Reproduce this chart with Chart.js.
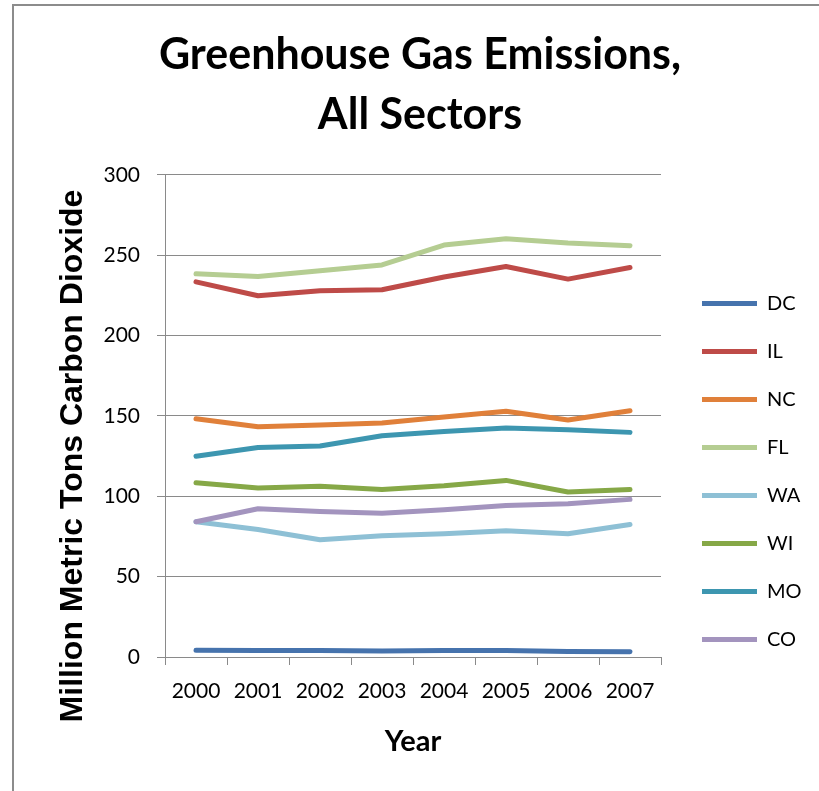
<!DOCTYPE html>
<html>
<head>
<meta charset="utf-8">
<script src="https://cdn.jsdelivr.net/npm/chart.js@4.4.1/dist/chart.umd.min.js"></script>
<style>
  html, body { margin: 0; padding: 0; background: #fff; overflow: hidden; }
  #wrap { position: relative; width: 819px; height: 791px; overflow: hidden; }
  #frame { position: absolute; left: 12px; top: 4px; width: 2000px; height: 2000px;
           border: 2px solid #8c8c8c; box-sizing: border-box; }
  #c { position: absolute; left: 0; top: 0; }
</style>
</head>
<body>
<div id="wrap">
  <div id="frame"></div>
  <canvas id="c" width="819" height="791"></canvas>
</div>
<script>
// categories
const years = ['2000', '2001', '2002', '2003', '2004', '2005', '2006', '2007'];

// series values (million metric tons CO2)
const dc = [4.2, 4.1, 4.1, 3.8, 4.0, 4.0, 3.4, 3.3];
const il = [233.5, 224.8, 228.0, 228.6, 236.5, 243.0, 235.2, 242.4];
const nc = [148.3, 143.3, 144.4, 145.6, 149.3, 153.0, 147.5, 153.3];
const fl = [238.5, 236.8, 240.4, 244.0, 256.4, 260.3, 257.6, 256.0];
const wa = [84.2, 79.4, 73.0, 75.5, 76.7, 78.6, 76.7, 82.5];
const wi = [108.5, 105.2, 106.2, 104.3, 106.6, 109.9, 102.7, 104.3];
const mo = [125.0, 130.4, 131.3, 137.7, 140.4, 142.5, 141.4, 139.8];
const co = [84.2, 92.3, 90.6, 89.4, 91.7, 94.3, 95.4, 98.1];

const seriesNames = ['DC', 'IL', 'NC', 'FL', 'WA', 'WI', 'MO', 'CO'];
const seriesData = [dc, il, nc, fl, wa, wi, mo, co];
const seriesColors = ['#4673ad', '#be4b48', '#e0803a', '#b5cd92', '#8ec0d5', '#86a847', '#3d96b0', '#a394be'];

// y axis ticks
const yMin = 0, yMax = 300, yStep = 50;

const gridGray = '#8a8a8a';

// y axis title sits lower than the plot centre in the original, so draw it here
const yTitlePlugin = {
    id: 'yTitle',
    afterDraw(chart) {
        const ctx = chart.ctx;
        ctx.save();
        ctx.translate(82, 456);
        ctx.rotate(-Math.PI / 2);
        ctx.font = 'bold 32px "Liberation Sans", Arial, sans-serif';
        ctx.fillStyle = '#000';
        ctx.textAlign = 'center';
        ctx.textBaseline = 'alphabetic';
        ctx.fillText('Million Metric Tons Carbon Dioxide', 0, 0);
        ctx.restore();
    }
};

function initChart() {
    const ctx = document.getElementById('c').getContext('2d');

    const datasets = seriesNames.map((name, i) => ({
        label: name,
        data: seriesData[i],
        borderColor: seriesColors[i],
        backgroundColor: seriesColors[i],
        borderWidth: 5,
        borderCapStyle: 'round',
        borderJoinStyle: 'round',
        pointRadius: 0,
        pointHoverRadius: 0,
        tension: 0,
        fill: false,
        // later series drawn on top, like Excel
        order: seriesNames.length - i
    }));

    new Chart(ctx, {
        type: 'line',
        data: { labels: years, datasets: datasets },
        options: {
            responsive: false,
            animation: false,
            layout: { padding: { left: 39, right: 18, top: 0, bottom: 0 } },
            plugins: {
                title: {
                    display: true,
                    text: ['Greenhouse Gas Emissions,', 'All Sectors'],
                    color: '#000',
                    font: { family: 'Lato', size: 43, weight: 'bold', lineHeight: 1.395 },
                    padding: { top: 25, bottom: 30 }
                },
                legend: {
                    position: 'right',
                    align: 'center',
                    // empty title just pushes the entries down
                    title: { display: true, text: ' ', font: { size: 10, lineHeight: 1.2 }, padding: { top: 140, bottom: 0 } },
                    labels: {
                        usePointStyle: true,
                        pointStyle: 'line',
                        pointStyleWidth: 55,
                        boxHeight: 20,
                        color: '#000',
                        font: { family: 'Lato', size: 20 },
                        padding: 28,
                        sort: (a, b) => a.datasetIndex - b.datasetIndex
                    }
                },
                tooltip: { enabled: false }
            },
            scales: {
                x: {
                    offset: true,
                    grid: { offset: true, drawOnChartArea: false, drawTicks: true, tickLength: 8, color: gridGray },
                    border: { color: gridGray, width: 1 },
                    ticks: { color: '#000', font: { family: 'Lato', size: 21 }, padding: 14, maxRotation: 0 },
                    title: {
                        display: true,
                        text: 'Year',
                        color: '#000',
                        font: { family: 'Lato', size: 29, weight: 'bold', lineHeight: 1.2 },
                        padding: { top: 6, bottom: 32 }
                    }
                },
                y: {
                    min: yMin,
                    max: yMax,
                    grid: { color: gridGray, tickLength: 8 },
                    border: { color: gridGray, width: 1 },
                    ticks: { stepSize: yStep, color: '#000', font: { family: 'Lato', size: 21 }, padding: 17 },
                    afterFit: (scale) => { scale.width = 126; }
                },
                // blank spacer between plot and legend
                gap: {
                    position: 'right',
                    grid: { display: false },
                    border: { display: false },
                    ticks: { display: false },
                    afterFit: (scale) => { scale.width = 13; }
                }
            }
        },
        plugins: [yTitlePlugin]
    });
}

window.addEventListener('load', () => {
    initChart();
});
</script>
</body>
</html>
